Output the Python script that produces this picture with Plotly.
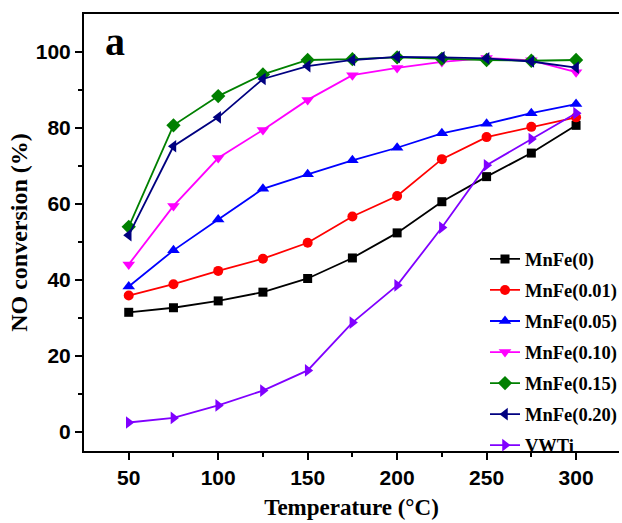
import plotly.graph_objects as go

temps = [50, 75, 100, 125, 150, 175, 200, 225, 250, 275, 300]
mnfe_0 = [31.5, 32.7, 34.5, 36.8, 40.4, 45.8, 52.4, 60.6, 67.2, 73.4, 80.7]
mnfe_001 = [35.9, 38.9, 42.4, 45.6, 49.8, 56.7, 62.1, 71.8, 77.6, 80.3, 82.8]
mnfe_005 = [38.3, 47.8, 55.9, 64.0, 67.8, 71.5, 74.8, 78.6, 81.1, 83.9, 86.3]
mnfe_010 = [44.1, 59.5, 72.1, 79.5, 87.4, 93.9, 95.8, 97.4, 98.4, 97.8, 94.7]
mnfe_015 = [54.0, 80.7, 88.4, 94.1, 97.9, 98.1, 98.6, 98.2, 97.9, 97.7, 97.9]
mnfe_020 = [51.8, 75.2, 82.8, 92.9, 96.3, 97.9, 98.7, 98.6, 98.3, 97.5, 95.9]
vwti = [2.5, 3.7, 7.0, 10.9, 16.2, 28.8, 38.6, 53.8, 70.2, 77.1, 83.9]

series = [
    ("MnFe(0)", mnfe_0, "#000000", "square", 9),
    ("MnFe(0.01)", mnfe_001, "#ff0000", "circle", 10),
    ("MnFe(0.05)", mnfe_005, "#0000ff", "triangle-up", 11),
    ("MnFe(0.10)", mnfe_010, "#ff00ff", "triangle-down", 11),
    ("MnFe(0.15)", mnfe_015, "#008000", "diamond", 11),
    ("MnFe(0.20)", mnfe_020, "#000080", "triangle-left", 11),
    ("VWTi", vwti, "#8000ff", "triangle-right", 11),
]

fig = go.Figure()
for i, (name, vals, color, sym, sz) in enumerate(series):
    fig.add_trace(go.Scatter(
        x=temps, y=vals, name=name, mode="lines+markers",
        line=dict(color=color, width=1.8),
        marker=dict(symbol=sym, size=sz, color=color),
        legendgroup=f"g{i}",
    ))

serif = "Liberation Serif, Times New Roman, serif"
sans = "Liberation Sans, Arial, sans-serif"

fig.update_layout(
    width=622, height=523,
    margin=dict(l=84, r=0, t=14, b=72),
    plot_bgcolor="white", paper_bgcolor="white",
    showlegend=True,
    legend=dict(
        x=0.75, y=0.482, xanchor="left", yanchor="top",
        font=dict(family=serif, size=18.5, color="black", weight="bold"),
        tracegroupgap=4, bgcolor="rgba(0,0,0,0)",
        traceorder="grouped",
    ),
    xaxis=dict(
        range=[25, 324], tickvals=[50, 100, 150, 200, 250, 300],
        ticks="outside", ticklen=7, tickwidth=2, tickcolor="black",
        showline=True, linecolor="black", linewidth=2, mirror=True,
        showgrid=False, zeroline=False,
        tickfont=dict(family=sans, size=21, color="black", weight="bold"),
        minor=dict(tickvals=[75, 125, 175, 225, 275], ticks="outside", ticklen=4, tickwidth=2, tickcolor="black"),
        title=dict(text="Temperature (°C)", font=dict(family=serif, size=23, color="black", weight="bold"), standoff=11),
    ),
    yaxis=dict(
        range=[-5, 110], tickvals=[0, 20, 40, 60, 80, 100],
        ticks="outside", ticklen=7, tickwidth=2, tickcolor="black",
        showline=True, linecolor="black", linewidth=2, mirror=False,
        showgrid=False, zeroline=False,
        tickfont=dict(family=sans, size=21, color="black", weight="bold"),
        minor=dict(tickvals=[10, 30, 50, 70, 90], ticks="outside", ticklen=4, tickwidth=2, tickcolor="black"),
        title=dict(text="NO conversion (%)", font=dict(family=serif, size=24, color="black", weight="bold"), standoff=1),
    ),
    annotations=[dict(
        text="a", x=0.035, y=0.936, xref="paper", yref="paper", xanchor="left", yanchor="middle",
        showarrow=False, font=dict(family=serif, size=40, color="black", weight="bold"),
    )],
)

fig.write_html("out.html")
